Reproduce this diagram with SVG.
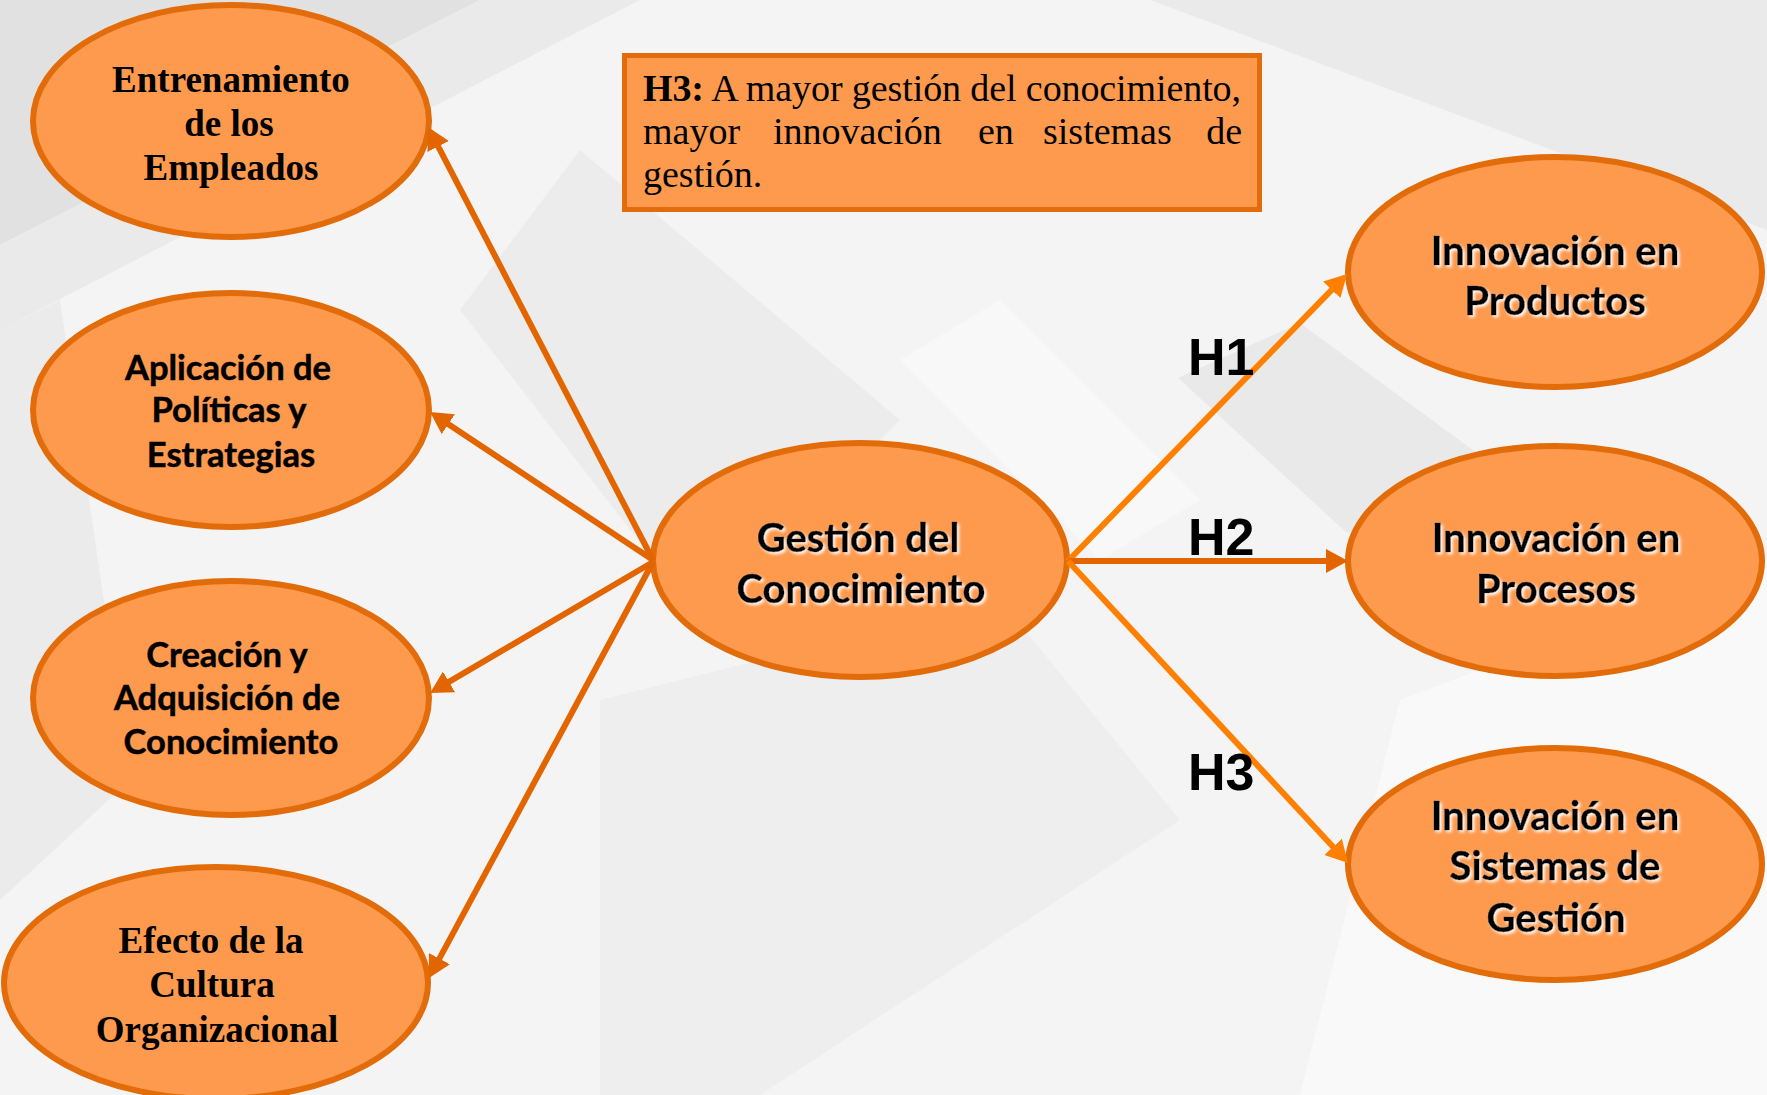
<svg xmlns="http://www.w3.org/2000/svg" width="1767" height="1095" viewBox="0 0 1767 1095">
<defs>
<style>
.node{fill:#FE9A4E;stroke:#E26B0A;stroke-width:6}
.serif{font-family:"Liberation Serif","Times New Roman",serif;font-weight:bold;font-size:37px;fill:#000;text-anchor:middle}
.sans{font-family:Lato,"Noto Sans",sans-serif;font-weight:bold;fill:#000;stroke:#000;stroke-width:0.5;text-anchor:middle}
.sm{font-size:34.5px}
.lg{font-size:40px}
.hl{font-family:"Liberation Sans",Arial,sans-serif;font-weight:bold;font-size:52px;fill:#000}
.box{fill:#FE9A4E;stroke:#E26B0A;stroke-width:5}
.btxt{font-family:"Liberation Serif","Times New Roman",serif;font-size:38px;fill:#000}
.dk{stroke:#E36500;stroke-width:6;fill:none}
.br{stroke:#FF7F00;stroke-width:6;fill:none}
</style>
<marker id="ad" markerUnits="userSpaceOnUse" markerWidth="22" markerHeight="24" refX="8" refY="12" orient="auto"><path d="M0,0 L22,12 L0,24 z" fill="#E36500"/></marker>
<marker id="ab" markerUnits="userSpaceOnUse" markerWidth="22" markerHeight="24" refX="8" refY="12" orient="auto"><path d="M0,0 L22,12 L0,24 z" fill="#FF7F00"/></marker>
<filter id="glow" x="-10%" y="-20%" width="120%" height="150%">
<feDropShadow dx="2" dy="2" stdDeviation="1.5" flood-color="#FFFFFF" flood-opacity="0.95"/>
</filter>
</defs>

<g id="background">
<rect width="1767" height="1095" fill="#F4F4F4"/>
<polygon points="0,0 480,0 0,245" fill="#E1E1E1"/>
<polygon points="480,0 640,0 0,330 0,245" fill="#EAEAEA"/>
<polygon points="0,330 60,300 130,780 0,900" fill="#EBEBEB"/>
<polygon points="1150,0 1767,0 1767,230" fill="#EAEAEA"/>
<polygon points="460,310 580,150 900,420 700,620" fill="#ECECEC"/>
<polygon points="1178,378 1300,323 1500,470 1347,533" fill="#E9E9E9"/>
<polygon points="600,700 1000,600 1180,820 760,1095 600,1095" fill="#EEEEEE"/>
<polygon points="900,360 1000,300 1200,500 1100,560" fill="#F8F8F8"/>
<polygon points="1400,700 1767,560 1767,1095 1300,1095" fill="#F9F9F9"/>
</g>

<g id="n-entrenamiento">
<ellipse class="node" cx="231" cy="121" rx="198" ry="116"/>
<text class="serif" x="231" y="92">Entrenamiento</text>
<text class="serif" x="229" y="136">de los</text>
<text class="serif" x="231" y="180">Empleados</text>
</g>

<g id="n-aplicacion">
<ellipse class="node" cx="231" cy="410" rx="198" ry="117"/>
<text class="sans sm" x="228" y="380">Aplicación de</text>
<text class="sans sm" x="229" y="422">Políticas y</text>
<text class="sans sm" x="231" y="467">Estrategias</text>
</g>

<g id="n-creacion">
<ellipse class="node" cx="231" cy="698" rx="198" ry="117"/>
<text class="sans sm" x="227" y="667">Creación y</text>
<text class="sans sm" x="227" y="710">Adquisición de</text>
<text class="sans sm" x="231" y="754">Conocimiento</text>
</g>

<g id="n-efecto">
<ellipse class="node" cx="216" cy="983" rx="212" ry="116"/>
<text class="serif" x="211" y="953">Efecto de la</text>
<text class="serif" x="212" y="997">Cultura</text>
<text class="serif" x="217" y="1042">Organizacional</text>
</g>

<g id="n-gestion">
<ellipse class="node" cx="860" cy="560" rx="207" ry="117"/>
<g filter="url(#glow)">
<text class="sans lg" x="858" y="552">Gestión del</text>
<text class="sans lg" x="861" y="603">Conocimiento</text>
</g>
</g>

<g id="n-productos">
<ellipse class="node" cx="1555" cy="272" rx="207" ry="115"/>
<g filter="url(#glow)">
<text class="sans lg" x="1555" y="265">Innovación en</text>
<text class="sans lg" x="1555" y="315">Productos</text>
</g>
</g>

<g id="n-procesos">
<ellipse class="node" cx="1555" cy="561" rx="207" ry="115"/>
<g filter="url(#glow)">
<text class="sans lg" x="1556" y="552">Innovación en</text>
<text class="sans lg" x="1556" y="603">Procesos</text>
</g>
</g>

<g id="n-sistemas">
<ellipse class="node" cx="1555" cy="864" rx="207" ry="116"/>
<g filter="url(#glow)">
<text class="sans lg" x="1555" y="830">Innovación en</text>
<text class="sans lg" x="1555" y="880">Sistemas de</text>
<text class="sans lg" x="1556" y="932">Gestión</text>
</g>
</g>

<g id="n-h3-box">
<rect class="box" x="624.5" y="55.5" width="635" height="154"/>
<text class="btxt" x="643" y="101" textLength="598" lengthAdjust="spacing"><tspan font-weight="bold">H3:</tspan> A mayor gestión del conocimiento,</text>
<text class="btxt" x="643" y="144">mayor</text>
<text class="btxt" x="773" y="144">innovación</text>
<text class="btxt" x="978" y="144">en</text>
<text class="btxt" x="1043" y="144">sistemas</text>
<text class="btxt" x="1242" y="144" text-anchor="end">de</text>
<text class="btxt" x="643" y="187">gestión.</text>
</g>

<g id="connectors">
<line class="dk" x1="653" y1="560" x2="434.5" y2="139.4" marker-end="url(#ad)"/>
<line class="dk" x1="653" y1="560" x2="441.7" y2="419.7" marker-end="url(#ad)"/>
<line class="dk" x1="653" y1="562" x2="442.1" y2="685.9" marker-end="url(#ad)"/>
<line class="dk" x1="653" y1="562" x2="435.6" y2="965.7" marker-end="url(#ad)"/>
<line class="br" x1="1068" y1="561" x2="1337.3" y2="284.1" marker-end="url(#ab)"/>
<line class="dk" x1="1068" y1="561" x2="1334" y2="561" stroke-width="7" marker-end="url(#ad)"/>
<line class="br" x1="1068" y1="561" x2="1338.5" y2="852.7" marker-end="url(#ab)"/>
<text class="hl" x="1188" y="375">H1</text>
<text class="hl" x="1188" y="555">H2</text>
<text class="hl" x="1188" y="790">H3</text>
</g>
</svg>
